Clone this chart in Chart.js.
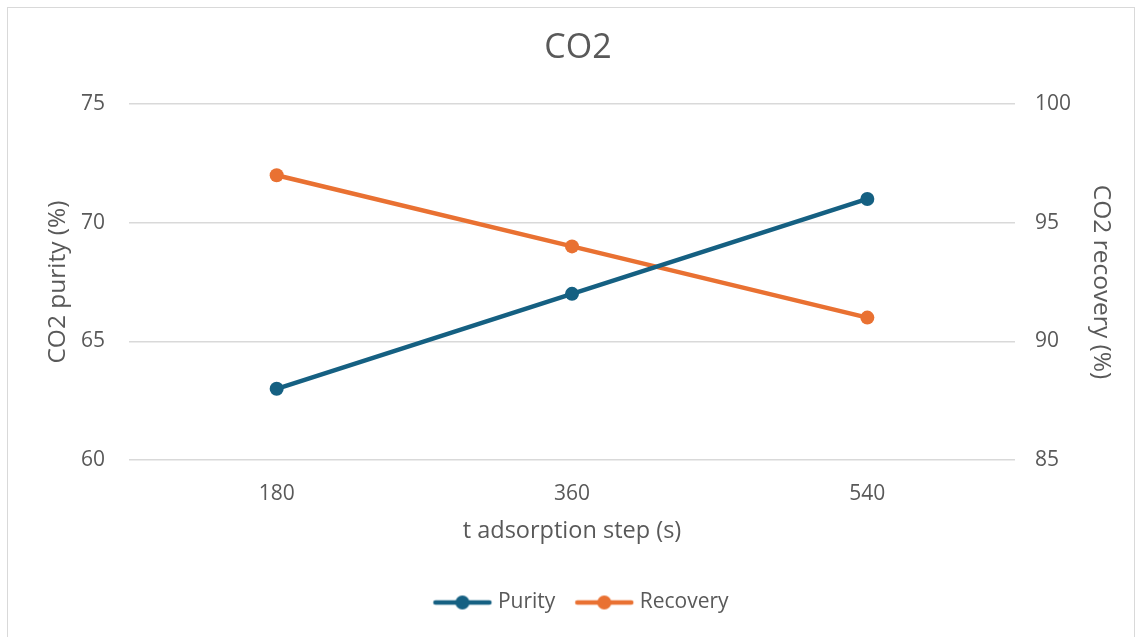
<!DOCTYPE html>
<html>
<head>
<meta charset="utf-8">
<script src="https://cdn.jsdelivr.net/npm/chart.js@4"></script>
<style>
  body { margin: 0; background: #fff; }
  #wrap { position: relative; width: 1140px; height: 637px; }
  #frame { position: absolute; left: 7px; top: 7px; width: 1126px; height: 640px; border: 1px solid #d9d9d9; pointer-events: none; }
</style>
</head>
<body>
<div id="wrap">
  <canvas id="chart" width="1140" height="637"></canvas>
  <div id="frame"></div>
</div>
<script>
const categories = ["180", "360", "540"];
const purity = [63, 67, 71];
const recovery = [97, 94, 91];
const purityTicks = [60, 65, 70, 75];
const recoveryTicks = [85, 90, 95, 100];

const blue = "#156082";
const orange = "#e97132";
const textColor = "#595959";
const font = "'Open Sans', sans-serif";

// legend marker: short line with a dot in the middle
function legendMarker(color) {
    const c = document.createElement("canvas");
    c.width = 62;
    c.height = 16;
    const ctx = c.getContext("2d");
    ctx.strokeStyle = color;
    ctx.lineWidth = 4.5;
    ctx.lineCap = "round";
    ctx.beginPath();
    ctx.moveTo(4, 8);
    ctx.lineTo(58, 8);
    ctx.stroke();
    ctx.fillStyle = color;
    ctx.beginPath();
    ctx.arc(31, 8, 7, 0, Math.PI * 2);
    ctx.fill();
    return c;
}

const titlePlugin = {
    id: "topTitle",
    afterLayout(chart) {
        // excel centres the legend a bit right of the canvas middle
        if (chart.legend) {
            chart.legend.left += 13;
            chart.legend.right += 13;
        }
    },
    afterDraw(chart) {
        const ctx = chart.ctx;
        ctx.save();
        ctx.fillStyle = textColor;
        ctx.font = "34px " + font;
        ctx.textAlign = "center";
        ctx.textBaseline = "middle";
        ctx.fillText("CO2", 578, 48);
        ctx.restore();
    }
};

new Chart(document.getElementById("chart"), {
    type: "line",
    data: {
        labels: categories,
        datasets: [{
            label: "Purity",
            data: purity,
            yAxisID: "y",
            borderColor: blue,
            backgroundColor: blue,
            borderWidth: 4.5,
            pointStyle: "circle",
            pointRadius: 7,
            pointHoverRadius: 7,
            pointBorderWidth: 0
        }, {
            label: "Recovery",
            data: recovery,
            yAxisID: "y1",
            borderColor: orange,
            backgroundColor: orange,
            borderWidth: 4.5,
            pointStyle: "circle",
            pointRadius: 7,
            pointHoverRadius: 7,
            pointBorderWidth: 0
        }]
    },
    options: {
        responsive: false,
        animation: false,
        layout: { padding: { top: 104, left: 0, right: 0, bottom: 14 } },
        plugins: {
            title: { display: false },
            tooltip: { enabled: false },
            legend: {
                position: "bottom",
                labels: {
                    color: textColor,
                    font: { family: font, size: 21 },
                    usePointStyle: true,
                    pointStyleWidth: 50,
                    padding: 24,
                    generateLabels(chart) {
                        return chart.data.datasets.map((ds, i) => ({
                            text: ds.label,
                            fillStyle: ds.borderColor,
                            strokeStyle: ds.borderColor,
                            lineWidth: 0,
                            pointStyle: legendMarker(ds.borderColor),
                            fontColor: textColor,
                            datasetIndex: i
                        }));
                    }
                }
            }
        },
        scales: {
            x: {
                offset: true,
                grid: { display: false, drawTicks: false },
                border: { display: false },
                ticks: { color: textColor, font: { family: font, size: 21 }, padding: 21 },
                title: {
                    display: true,
                    text: "t adsorption step (s)",
                    color: textColor,
                    font: { family: font, size: 23.5 },
                    padding: { top: 0, bottom: 23 }
                },
                afterFit(scale) { scale.height = 108; }
            },
            y: {
                position: "left",
                min: 60,
                max: 75,
                afterBuildTicks(scale) { scale.ticks = purityTicks.map(v => ({ value: v })); },
                grid: { color: "#d9d9d9", lineWidth: 1.5, drawTicks: false },
                border: { display: false },
                ticks: { color: textColor, font: { family: font, size: 21 }, padding: 24 },
                title: {
                    display: true,
                    text: "CO2 purity (%)",
                    color: textColor,
                    font: { family: font, size: 24.5 },
                    padding: { top: 43, bottom: 0 }
                },
                afterFit(scale) { scale.width = 129; }
            },
            y1: {
                position: "right",
                min: 85,
                max: 100,
                afterBuildTicks(scale) { scale.ticks = recoveryTicks.map(v => ({ value: v })); },
                grid: { display: false, drawTicks: false },
                border: { display: false },
                ticks: { color: textColor, font: { family: font, size: 21 }, padding: 20 },
                title: {
                    display: true,
                    text: "CO2 recovery (%)",
                    color: textColor,
                    font: { family: font, size: 24.5 },
                    padding: { top: 24, bottom: 0 }
                },
                afterFit(scale) { scale.width = 125; }
            }
        }
    },
    plugins: [titlePlugin]
});
</script>
</body>
</html>
